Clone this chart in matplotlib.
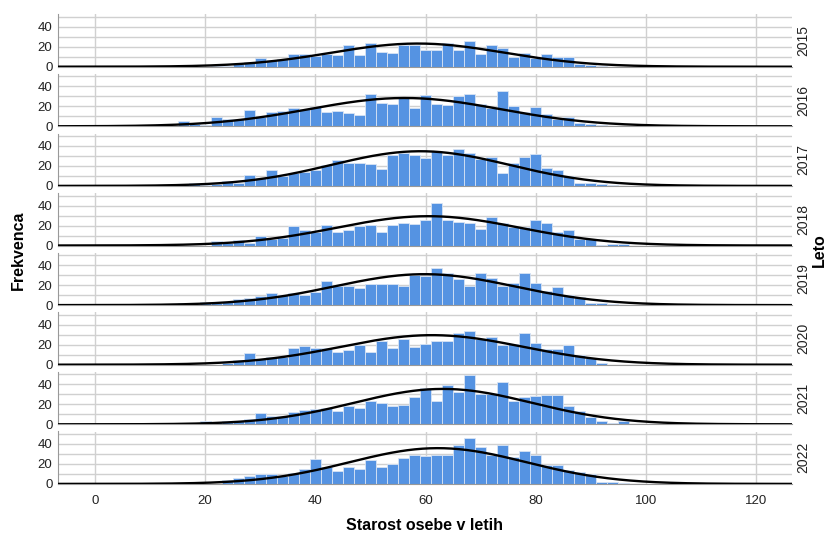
import numpy as np
import matplotlib.pyplot as plt

plt.rcParams['font.family'] = ['Liberation Sans', 'DejaVu Sans']

# bin centres (2-year bins)
ages = [12, 14, 16, 18, 20, 22, 24, 26, 28, 30, 32, 34, 36, 38, 40, 42, 44, 46, 48, 50, 52, 54,
        56, 58, 60, 62, 64, 66, 68, 70, 72, 74, 76, 78, 80, 82, 84, 86, 88, 90, 92, 94, 96]

years = ['2015', '2016', '2017', '2018', '2019', '2020', '2021', '2022']

y2015 = [0, 0, 0, 0, 0, 1, 1, 3, 5, 9, 7, 8, 13, 13, 11, 13, 12, 22, 12, 24, 15, 14,
         22, 22, 17, 17, 24, 17, 26, 13, 22, 19, 10, 14, 9, 13, 10, 10, 3, 2, 1, 0, 0]
y2016 = [2, 0, 5, 2, 1, 9, 7, 7, 16, 9, 14, 15, 18, 17, 19, 14, 15, 13, 11, 32, 23, 22,
         28, 18, 31, 22, 21, 30, 32, 22, 18, 35, 20, 14, 19, 12, 7, 9, 3, 2, 1, 0, 0]
y2017 = [0, 0, 2, 3, 1, 2, 5, 3, 11, 8, 16, 10, 13, 14, 16, 21, 26, 23, 23, 22, 17, 31,
         33, 31, 28, 35, 31, 37, 33, 27, 29, 13, 23, 29, 32, 18, 16, 10, 3, 3, 2, 1, 0]
y2018 = [0, 0, 0, 0, 0, 5, 3, 6, 3, 10, 7, 8, 20, 16, 14, 21, 14, 16, 20, 21, 14, 21,
         23, 22, 26, 43, 26, 24, 23, 17, 29, 23, 19, 19, 26, 23, 14, 16, 7, 7, 1, 2, 2]
y2019 = [0, 0, 2, 0, 3, 2, 3, 6, 7, 9, 12, 10, 12, 10, 13, 24, 19, 19, 17, 21, 21, 21,
         19, 30, 29, 37, 32, 26, 19, 32, 27, 19, 22, 32, 22, 14, 18, 10, 8, 2, 2, 1, 0]
y2020 = [0, 0, 0, 0, 0, 0, 2, 5, 12, 6, 8, 8, 17, 19, 17, 17, 13, 15, 20, 13, 24, 17,
         26, 18, 21, 24, 24, 32, 34, 26, 28, 20, 21, 32, 22, 16, 16, 20, 10, 7, 2, 0, 0]
y2021 = [0, 0, 0, 0, 3, 2, 3, 3, 5, 11, 8, 8, 12, 14, 15, 16, 13, 18, 16, 23, 21, 18,
         19, 27, 36, 23, 39, 32, 49, 30, 30, 42, 23, 27, 28, 29, 29, 18, 13, 7, 3, 1, 3]
y2022 = [0, 0, 0, 0, 0, 0, 4, 6, 8, 10, 10, 8, 11, 15, 25, 17, 13, 17, 15, 24, 17, 20,
         26, 29, 28, 29, 29, 39, 46, 37, 29, 39, 27, 33, 29, 19, 19, 14, 12, 10, 2, 2, 1]

counts = [y2015, y2016, y2017, y2018, y2019, y2020, y2021, y2022]

bar_color = '#5593e2'
grid_color = '#d0d0d0'

W, H = 837, 535
fig = plt.figure(figsize=(W / 100, H / 100), dpi=100)

left, right = 58, 792
top0, pitch, ph = 14.3, 59.6, 52.4
xs = np.linspace(-6.7, 126.5, 400)

for i, (yr, c) in enumerate(zip(years, counts)):
    top = top0 + pitch * i
    ax = fig.add_axes([left / W, 1 - (top + ph) / H, (right - left) / W, ph / H])

    # normal curve from the histogram's own mean / sd
    a = np.array(ages, dtype=float)
    n = np.array(c, dtype=float)
    total = n.sum()
    mu = (a * n).sum() / total
    sd = np.sqrt(((a - mu) ** 2 * n).sum() / (total - 1))

    ax.bar(ages, c, width=2, color=bar_color, edgecolor='#d8e4f4', linewidth=0.6, zorder=2)
    curve = total * 2 * np.exp(-0.5 * ((xs - mu) / sd) ** 2) / (sd * np.sqrt(2 * np.pi))
    ax.plot(xs, curve, color='black', lw=1.7, zorder=3)

    ax.set_xlim(-6.7, 126.5)
    ax.set_ylim(0, ph)
    ax.set_xticks([0, 20, 40, 60, 80, 100, 120])
    ax.set_yticks([0, 10, 20, 30, 40, 50], labels=['0', '', '20', '', '40', ''])
    ax.grid(True, color=grid_color, lw=1, zorder=0)
    ax.set_axisbelow(True)
    ax.tick_params(length=0, labelsize=9.5, colors='#222222', pad=4)
    ax.tick_params(axis='x', pad=8)
    for s in ['top', 'right']:
        ax.spines[s].set_visible(False)
    ax.spines['left'].set_color('#999999')
    ax.spines['bottom'].set_color('#999999')
    if i < len(years) - 1:
        ax.tick_params(labelbottom=False)

    ax.text(1.015, 0.5, yr, transform=ax.transAxes, rotation=90,
            ha='center', va='center', fontsize=10, color='#222222')

fig.text(18 / W, 1 - 250 / H, 'Frekvenca', rotation=90, ha='center', va='center',
         fontsize=11.5, fontweight='bold')
fig.text(819 / W, 1 - 250 / H, 'Leto', rotation=90, ha='center', va='center',
         fontsize=11.5, fontweight='bold')
fig.text(425 / W, 1 - 526 / H, 'Starost osebe v letih', ha='center', va='center',
         fontsize=11.5, fontweight='bold')

fig.savefig('out.png', dpi=100)
